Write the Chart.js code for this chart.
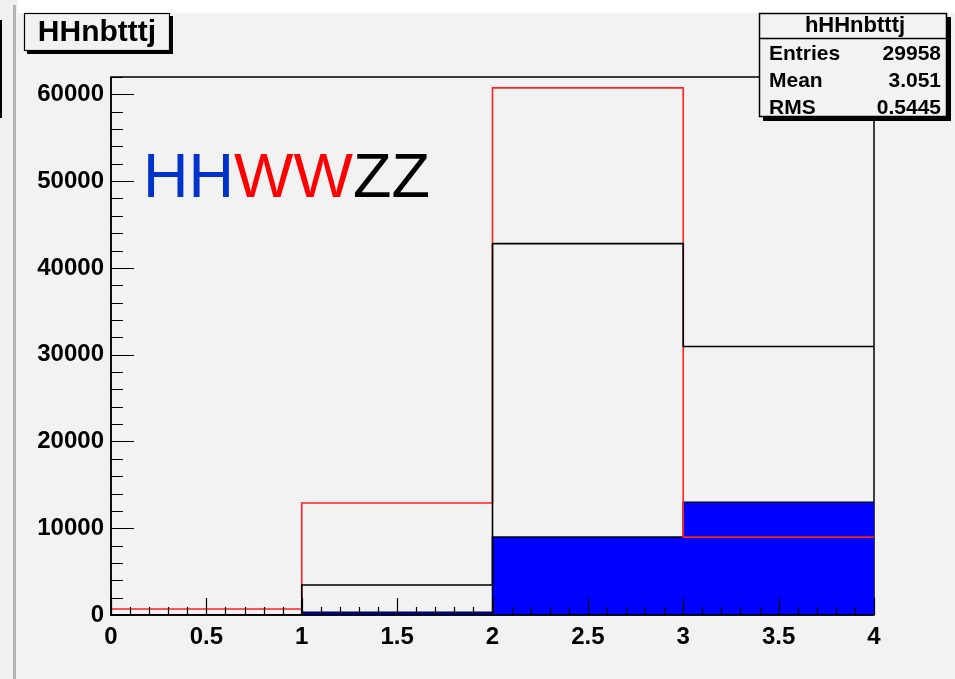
<!DOCTYPE html>
<html>
<head>
<meta charset="utf-8">
<script src="https://cdn.jsdelivr.net/npm/chart.js@4.4.1/dist/chart.umd.min.js"></script>
<style>
  html, body { margin: 0; padding: 0; background: #f2f2f2; }
  #hist { display: block; }
</style>
</head>
<body>
<canvas id="hist" width="955" height="679"></canvas>
<script>
// histogram bins and contents
const binEdges = [0, 1, 2, 3, 4];
const redCounts = [700, 12900, 60750, 8980];
const blackCounts = [0, 3450, 42800, 30950];
const blueCounts = [0, 300, 8980, 13000];

const xTickValues = [0, 0.5, 1, 1.5, 2, 2.5, 3, 3.5, 4];
const yTickValues = [0, 10000, 20000, 30000, 40000, 50000, 60000];

const histTitle = 'HHnbtttj';
const statsName = 'hHHnbtttj';
const statsLabels = ['Entries', 'Mean', 'RMS'];
const statsValues = ['29958', '3.051', '0.5445'];
const overlayWords = ['HH', 'WW', 'ZZ'];
const overlayColors = ['#0033cc', '#ff0000', '#000000'];

// turn bin contents into points for a stepped line
function toSteps(counts) {
  const pts = [{ x: binEdges[0], y: 0 }];
  counts.forEach((c, i) => pts.push({ x: binEdges[i], y: c }));
  pts.push({ x: binEdges[binEdges.length - 1], y: counts[counts.length - 1] });
  return pts;
}

const boldFont = (size) => 'bold ' + size + 'px "Liberation Sans", Arial, sans-serif';

const rootStyle = {
  id: 'rootStyle',
  beforeDraw(chart) {
    const ctx = chart.ctx;
    const a = chart.chartArea;
    ctx.save();
    ctx.fillStyle = '#f2f2f2';
    ctx.fillRect(0, 0, chart.width, chart.height);
    ctx.fillStyle = '#ffffff';
    ctx.fillRect(18, 0, chart.width, 13);
    ctx.fillStyle = '#f0f0f0';
    ctx.fillRect(0, 0, 13, chart.height);
    ctx.fillStyle = '#b4b4b4';
    ctx.fillRect(13, 5, 3, chart.height);
    ctx.fillStyle = '#000';
    ctx.fillRect(0, 20, 2, 98);
    // frame
    ctx.strokeStyle = '#000';
    ctx.lineWidth = 1.5;
    ctx.strokeRect(a.left, a.top, a.right - a.left, a.bottom - a.top);
    ctx.restore();
  },
  afterDatasetsDraw(chart) {
    const ctx = chart.ctx;
    const a = chart.chartArea;
    const xs = chart.scales.x, ys = chart.scales.y;
    ctx.save();
    ctx.strokeStyle = '#000';
    ctx.lineWidth = 1.5;
    ctx.beginPath();
    ctx.moveTo(a.left, a.top);
    ctx.lineTo(a.left, a.bottom);
    ctx.lineTo(a.right, a.bottom);
    ctx.stroke();
    // y ticks inside the frame
    ctx.lineWidth = 1.2;
    ctx.beginPath();
    for (let v = 0; v <= ys.max; v += 2000) {
      const py = Math.round(ys.getPixelForValue(v)) + 0.5;
      const len = v % 10000 === 0 ? 23 : 12;
      ctx.moveTo(a.left, py);
      ctx.lineTo(a.left + len, py);
    }
    // x ticks inside the frame
    for (let i = 0; i <= 40; i++) {
      const v = i / 10;
      const px = Math.round(xs.getPixelForValue(v)) + 0.5;
      const len = i % 5 === 0 ? 17 : 8;
      ctx.moveTo(px, a.bottom);
      ctx.lineTo(px, a.bottom - len);
    }
    ctx.stroke();
    ctx.restore();
  },
  afterDraw(chart) {
    const ctx = chart.ctx;
    ctx.save();
    // title box
    ctx.fillStyle = '#000';
    ctx.fillRect(27, 16, 146, 38);
    ctx.fillStyle = '#f2f2f2';
    ctx.fillRect(24, 13, 146, 38);
    ctx.strokeStyle = '#000';
    ctx.lineWidth = 1.2;
    ctx.strokeRect(24.5, 13.5, 145, 37);
    ctx.fillStyle = '#000';
    ctx.font = boldFont(30);
    ctx.textAlign = 'center';
    ctx.textBaseline = 'middle';
    ctx.fillText(histTitle, 97, 33);

    // stats box
    ctx.fillStyle = '#000';
    ctx.fillRect(763, 17, 188, 104);
    ctx.fillStyle = '#f2f2f2';
    ctx.fillRect(759, 13, 188, 104);
    ctx.lineWidth = 1.5;
    ctx.strokeRect(759.5, 13.5, 187, 103);
    ctx.beginPath();
    ctx.moveTo(759, 38.5);
    ctx.lineTo(947, 38.5);
    ctx.stroke();
    ctx.fillStyle = '#000';
    ctx.font = boldFont(22);
    ctx.textAlign = 'center';
    ctx.fillText(statsName, 855, 26);
    ctx.font = boldFont(21);
    statsLabels.forEach((lab, i) => {
      const y = 54 + i * 27;
      ctx.textAlign = 'left';
      ctx.fillText(lab, 769, y);
      ctx.textAlign = 'right';
      ctx.fillText(statsValues[i], 941, y);
    });

    // HHWWZZ overlay text
    ctx.font = '63px "Liberation Sans", Arial, sans-serif';
    ctx.textAlign = 'left';
    ctx.textBaseline = 'alphabetic';
    let x = 143;
    overlayWords.forEach((w, i) => {
      ctx.fillStyle = overlayColors[i];
      ctx.fillText(w, x, 197);
      x += ctx.measureText(w).width;
    });
    ctx.restore();
  }
};

const lineSet = (data, color, order, fill) => ({
  data: data,
  stepped: 'before',
  borderColor: color,
  borderWidth: 1.6,
  pointRadius: 0,
  fill: fill ? 'origin' : false,
  backgroundColor: fill || 'transparent',
  order: order
});

const tickFont = { family: '"Liberation Sans", Arial, sans-serif', size: 24, weight: 'bold' };

new Chart(document.getElementById('hist'), {
  type: 'line',
  data: {
    datasets: [
      lineSet(toSteps(blackCounts), '#000000', 1, null),
      lineSet(toSteps(redCounts), '#ff2020', 2, null),
      lineSet(toSteps(blueCounts), '#000033', 3, '#0000ff')
    ]
  },
  options: {
    responsive: false,
    animation: false,
    layout: { padding: { left: 0, top: 77, right: 81, bottom: 0 } },
    plugins: {
      legend: { display: false },
      tooltip: { enabled: false },
      title: { display: false }
    },
    scales: {
      x: {
        type: 'linear',
        min: 0,
        max: 4,
        grid: { display: false },
        border: { display: false },
        ticks: {
          color: '#000',
          padding: 0,
          maxRotation: 0,
          autoSkip: false,
          font: tickFont,
          callback: (v) => String(v)
        },
        afterBuildTicks: (s) => { s.ticks = xTickValues.map(v => ({ value: v })); },
        afterFit: (s) => { s.height = 64; }
      },
      y: {
        type: 'linear',
        min: 0,
        max: 62000,
        grid: { display: false },
        border: { display: false },
        ticks: {
          color: '#000',
          padding: -1,
          autoSkip: false,
          font: tickFont,
          callback: (v) => String(v)
        },
        afterBuildTicks: (s) => { s.ticks = yTickValues.map(v => ({ value: v })); },
        afterFit: (s) => { s.width = 111; }
      }
    }
  },
  plugins: [rootStyle]
});
</script>
</body>
</html>
